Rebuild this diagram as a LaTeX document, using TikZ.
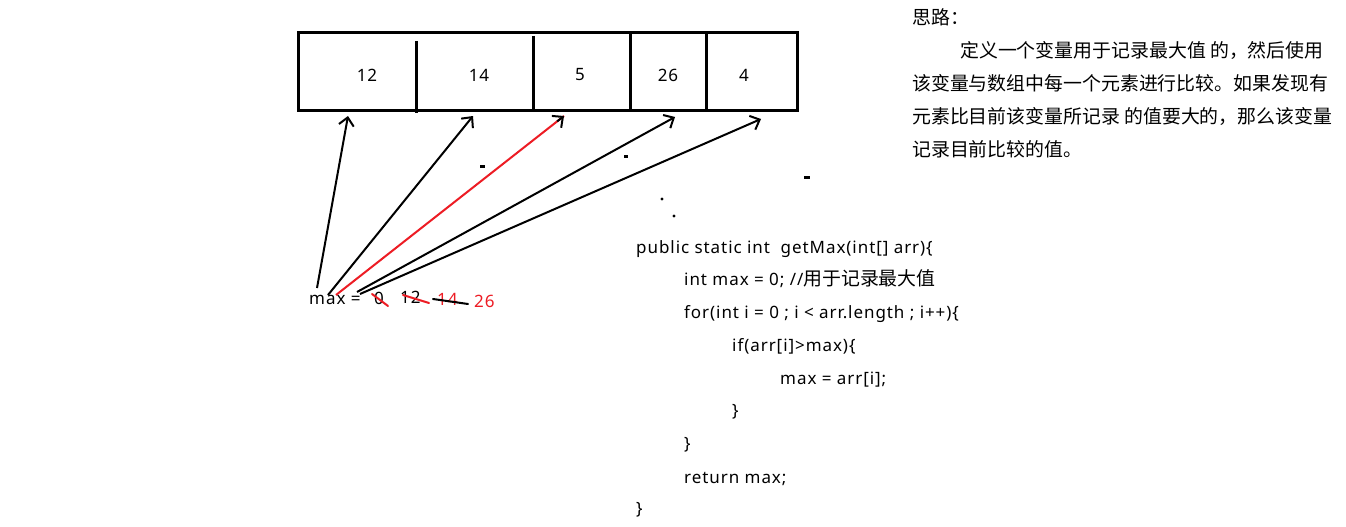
\documentclass[tikz,border=0pt]{standalone}
\usepackage{fontspec}
\setmainfont{Noto Sans}[LetterSpace=5.5]
\newfontfamily\cjk{Noto Sans CJK SC}
\newcommand{\hanzi}[1]{{\cjk\fontsize{18.9}{22}\selectfont #1}}
\usetikzlibrary{arrows.meta,positioning,calc}
\definecolor{paintred}{RGB}{237,28,36}

\begin{document}
\begin{tikzpicture}[x=1pt,y=-1pt,
    font=\fontsize{17}{20}\selectfont,
    txt/.style={anchor=west, inner sep=0pt, text height=13pt, text depth=4pt},
    ptr/.style={line width=2pt, -{Straight Barb[length=8pt,width=15pt,line width=2pt]}},
    strike/.style={line width=2pt, line cap=round}]
    \useasboundingbox[fill=white] (0,0) rectangle (1346,527);
    % array
    \draw[line width=3pt] (298,33) rectangle (797,110);
    \draw[line width=3pt] (416,41) -- (416,113);
    \draw[line width=3pt] (533,36) -- (533,109);
    \draw[line width=3pt] (630,33) -- (630,110);
    \draw[line width=3pt] (706,33) -- (706,110);
    \node (n12) at (367,75) {12};
    \node (n14) at (479,75) {14};
    \node (n5) at (580,75) {5};
    \node (n26) at (668,75) {26};
    \node (n4) at (744,75) {4};
    % arrow ends
    \coordinate (t1) at (348,116);
    \coordinate (t2) at (473,116);
    \coordinate (t3) at (564,116);
    \coordinate (t4) at (675,117);
    \coordinate (t5) at (761,119);
    \coordinate (m1) at (317,288);
    \coordinate (m2) at (328,295);
    \coordinate (m3) at (336,295);
    \coordinate (m4) at (357,292);
    \coordinate (m5) at (360,294);
    % max line
    \node[txt] (maxv) at (309,300) {max =};
    \node[txt] (v0) at (374,300) {0};
    \node[txt] (v12) at (400,299) {12};
    \node[txt, paintred] (v14) at (437,301) {14};
    \node[txt, paintred] (v26) at (474,303) {26};
    \draw[strike, paintred] (372,294) -- (388,306);
    \draw[strike, paintred] (403,295) -- (429,303);
    \draw[strike] (433,299) -- (468,304);
    % pointers
    \draw[ptr] (m1) -- (t1);
    \draw[ptr] (m2) -- (t2);
    \draw[line width=2pt, paintred] (m3) -- (t3);
    \draw[line width=2pt, -{Straight Barb[length=8pt,width=15pt,line width=2pt]}] ($(m3)!0.97!(t3)$) -- (t3);
    \draw[ptr] (m4) -- (t4);
    \draw[ptr] (m5) -- (t5);
    % stray marks
    \fill (480,165) rectangle (485,168);
    \fill (624,155) rectangle (628,158);
    \fill (804,176) rectangle (810,179);
    \fill (662,199) circle (1.6pt);
    \fill (674,216) circle (1.6pt);
    % idea
    \node[txt] (idea) at (912,20) {\hanzi{思路：}};
    \node[txt] (l1) at (960,53) {\hanzi{定义一个变量用于记录最大值 的，然后使用}};
    \node[txt] (l2) at (912,86) {\hanzi{该变量与数组中每一个元素进行比较。如果发现有}};
    \node[txt] (l3) at (912,119) {\hanzi{元素比目前该变量所记录 的值要大的，那么该变量}};
    \node[txt] (l4) at (912,152) {\hanzi{记录目前比较的值。}};
    % code
    \node[txt] (c1) at (636,249) {public static int~ getMax(int[] arr)\{};
    \node[txt] (c2) at (684,281) {int max = 0; //\hanzi{用于记录最大值}};
    \node[txt] (c3) at (684,314) {for(int i = 0 ; i < arr.length ; i++)\{};
    \node[txt] (c4) at (732,347) {if(arr[i]>max)\{};
    \node[txt] (c5) at (780,380) {max = arr[i];};
    \node[txt] (c6) at (732,412) {\}};
    \node[txt] (c7) at (684,445) {\}};
    \node[txt] (c8) at (684,479) {return max;};
    \node[txt] (c9) at (636,510) {\}};
\end{tikzpicture}
\end{document}
